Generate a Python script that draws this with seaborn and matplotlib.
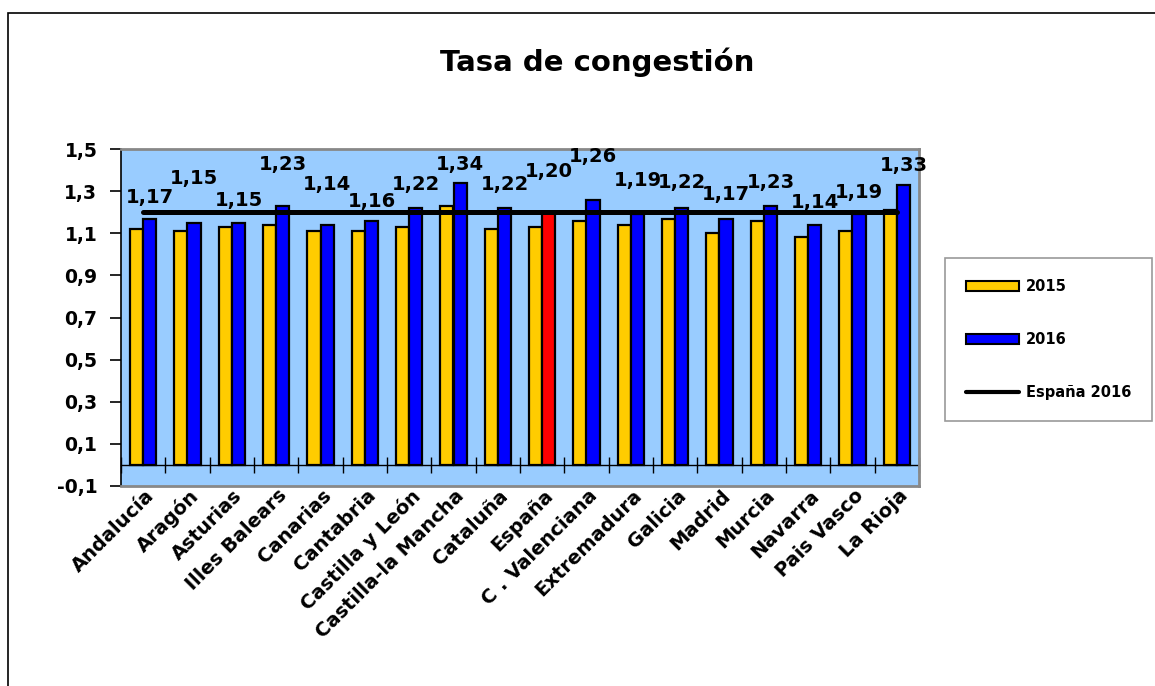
import numpy as np
import pandas as pd
import matplotlib
matplotlib.use('Agg')
import matplotlib.pyplot as plt
import matplotlib.transforms as mtransforms
from matplotlib.lines import Line2D
from matplotlib.patches import Patch, Rectangle
from matplotlib.ticker import FixedLocator, FuncFormatter, NullFormatter
import seaborn as sns

# datos
regions = ['Andalucía', 'Aragón', 'Asturias', 'Illes Balears', 'Canarias',
           'Cantabria', 'Castilla y León', 'Castilla-la Mancha', 'Cataluña',
           'España', 'C . Valenciana', 'Extremadura', 'Galicia', 'Madrid',
           'Murcia', 'Navarra', 'Pais Vasco', 'La Rioja']
tasa_2015 = [1.12, 1.11, 1.13, 1.14, 1.11, 1.11, 1.13, 1.23, 1.12,
             1.13, 1.16, 1.14, 1.17, 1.10, 1.16, 1.08, 1.11, 1.21]
tasa_2016 = [1.17, 1.15, 1.15, 1.23, 1.14, 1.16, 1.22, 1.34, 1.22,
             1.20, 1.26, 1.19, 1.22, 1.17, 1.23, 1.14, 1.19, 1.33]
espana_2016 = 1.20
y_ticks = [-0.1, 0.1, 0.3, 0.5, 0.7, 0.9, 1.1, 1.3, 1.5]

# how far each value label sits above its bar (points), like excel put them
label_lift = [15, 32, 16, 30, 29, 14, 17, 13, 17, 29, 31, 24, 18, 17, 17, 16, 16, 14]

sns.set_style('white')
plt.rcParams['font.family'] = ['DejaVu Sans']
plt.rcParams['font.weight'] = 'bold'
for key in ['text.color', 'axes.labelcolor', 'xtick.color', 'ytick.color']:
    plt.rcParams[key] = 'black'

df = pd.DataFrame({'region': regions * 2,
                   'year': ['2015'] * len(regions) + ['2016'] * len(regions),
                   'tasa': tasa_2015 + tasa_2016})

fig = plt.figure(figsize=(11.55, 6.86), dpi=100)
ax = fig.add_axes([121 / 1155, 1 - 486 / 686, 798 / 1155, 337 / 686])
ax.set_facecolor('#99CCFF')

sns.barplot(data=df, x='region', y='tasa', hue='year', order=regions,
            palette={'2015': '#FFCC00', '2016': '#0000FF'}, saturation=1,
            width=0.6, edgecolor='black', linewidth=1.6, legend=False, ax=ax)
ax.containers[1][regions.index('España')].set_facecolor('#FF0000')

ax.plot(np.arange(len(regions)), [espana_2016] * len(regions),
        color='black', lw=3.6, zorder=5)

for i, bar in enumerate(ax.containers[1]):
    v = tasa_2016[i]
    ax.annotate(f'{v:.2f}'.replace('.', ','),
                (bar.get_x() + bar.get_width() / 2, bar.get_height()),
                xytext=(0, label_lift[i]), textcoords='offset points',
                ha='center', va='center', fontsize=14, fontweight='bold', zorder=6)

ax.set_xlim(-0.5, len(regions) - 0.5)
ax.set_ylim(-0.1, 1.5)
ax.yaxis.set_major_locator(FixedLocator(y_ticks))
ax.yaxis.set_major_formatter(FuncFormatter(lambda v, _: f'{v:.1f}'.replace('.', ',')))
ax.tick_params(axis='y', direction='out', length=8, width=1.2, color='black',
               labelsize=13.5, pad=9, left=True)
ax.set_xticks(range(len(regions)))
ax.set_xticklabels(regions, rotation=45, ha='right', rotation_mode='anchor',
                   fontsize=14, fontweight='bold')
ax.tick_params(axis='x', length=0, pad=0)
shift = mtransforms.ScaledTranslation(1 / 100, 0, fig.dpi_scale_trans)
for lbl in ax.get_xticklabels():
    lbl.set_transform(lbl.get_transform() + shift)
ax.set_xlabel('')
ax.set_ylabel('')

for side in ['top', 'right', 'bottom']:
    ax.spines[side].set_color('#888888')
    ax.spines[side].set_linewidth(2)
ax.spines['left'].set_color('black')
ax.spines['left'].set_linewidth(1.2)

# eje de categorias cruzando en 0
sec = ax.secondary_xaxis(0.1 / 1.6)
sec.set_xticks(np.arange(-0.5, len(regions), 1))
sec.xaxis.set_major_formatter(NullFormatter())
sec.tick_params(direction='inout', length=12, width=1, color='black')
sec.spines['bottom'].set_color('black')
sec.spines['bottom'].set_linewidth(1)

handles = [Patch(facecolor='#FFCC00', edgecolor='black', lw=1.5, label='2015'),
           Patch(facecolor='#0000FF', edgecolor='black', lw=1.5, label='2016'),
           Line2D([], [], color='black', lw=3, label='España 2016')]
leg = fig.legend(handles=handles, loc='upper left', bbox_to_anchor=(945 / 1155, 1 - 258 / 686),
                 frameon=True, fancybox=False, edgecolor='#808080', fontsize=10.5,
                 handlelength=3.6, handleheight=0.6, labelspacing=2.6,
                 borderpad=1.45, handletextpad=0.5, borderaxespad=0)
leg.get_frame().set_linewidth(1.2)

fig.text(0.517, 1 - 62 / 686, 'Tasa de congestión', ha='center', va='center',
         fontsize=21, fontweight='bold')

fig.add_artist(Rectangle((8 / 1155, -0.1), 1.2, 1.1 - 13 / 686, transform=fig.transFigure,
                         fill=False, edgecolor='black', lw=1.2))

fig.savefig('out.png', dpi=100)
